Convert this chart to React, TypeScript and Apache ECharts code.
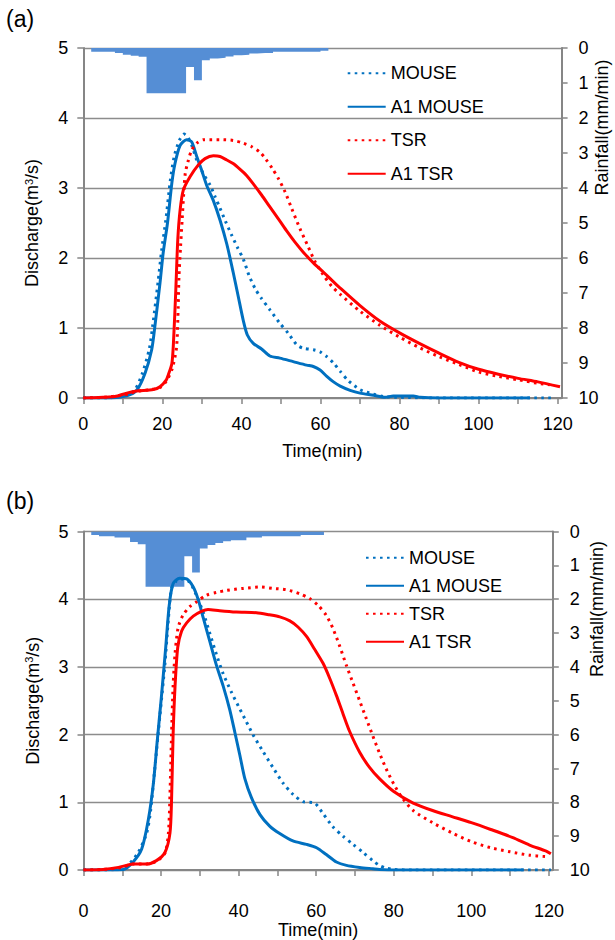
import React, { useEffect, useRef } from "react";
import * as echarts from "echarts";

// ---------- DATA ----------
const xTickValues = [0, 10, 20, 30, 40, 50, 60, 70, 80, 90, 100, 110, 120];
const xLabelValues = [0, 20, 40, 60, 80, 100, 120];

// rainfall bins (2-min blocks), edges in minutes
const rainEdges = [2, 4, 6, 8, 10, 12, 14, 16, 18, 20, 22, 24, 26, 28, 30, 32, 34, 36, 38, 40, 42, 44, 46, 48, 50, 52, 54, 56, 58, 60, 62];
const rainA = [0.11, 0.11, 0.11, 0.14, 0.19, 0.22, 0.25, 1.29, 1.29, 1.29, 1.29, 1.29, 0.54, 0.92, 0.35, 0.3, 0.28, 0.24, 0.21, 0.19, 0.16, 0.14, 0.14, 0.11, 0.11, 0.11, 0.11, 0.11, 0.11, 0.08];
const rainB = [0.1, 0.14, 0.14, 0.18, 0.18, 0.31, 0.38, 1.63, 1.63, 1.63, 1.63, 1.63, 0.73, 1.21, 0.5, 0.4, 0.34, 0.29, 0.26, 0.26, 0.18, 0.18, 0.14, 0.14, 0.14, 0.14, 0.14, 0.1, 0.1, 0.1];

// (a) discharge [time(min), m3/s]
const mouseA = [[0, 0], [6, 0], [9, 0.02], [11, 0.05], [13, 0.11], [15, 0.36], [16.7, 0.7], [17.6, 1.05], [18.9, 1.65], [19.8, 2.1], [20.9, 2.55], [22, 3.1], [23, 3.45], [24.3, 3.68], [25.5, 3.77], [26.5, 3.72], [27.5, 3.6], [28.7, 3.4], [30.4, 3.2], [32.1, 3.04], [33.3, 2.88], [34.6, 2.71], [36, 2.52], [37.5, 2.33], [39, 2.15], [40.5, 1.98], [42, 1.74], [43.5, 1.56], [45.1, 1.42], [47.2, 1.26], [49.7, 1.07], [51.9, 0.92], [54, 0.76], [55.7, 0.71], [58.2, 0.69], [59.9, 0.66], [61.6, 0.59], [63.3, 0.5], [65, 0.38], [67, 0.25], [70, 0.12], [73, 0.06], [76, 0.02], [80, 0.01], [90, 0], [118.5, 0]];
const a1MouseA = [[0, 0], [7, 0], [11, 0.03], [13.5, 0.11], [15.6, 0.35], [17.3, 0.69], [18.1, 1.02], [19.4, 1.64], [20.2, 2.07], [21.3, 2.5], [22.4, 3.07], [23.2, 3.35], [24.5, 3.61], [26.1, 3.69], [27.4, 3.66], [28.7, 3.45], [29.9, 3.26], [31.2, 3.04], [32.9, 2.82], [34.6, 2.54], [36.3, 2.2], [37.9, 1.8], [39.2, 1.45], [40.5, 1.1], [41.5, 0.9], [43, 0.78], [45.1, 0.7], [47.2, 0.6], [49.7, 0.57], [53.1, 0.52], [56.5, 0.47], [58.2, 0.45], [59.9, 0.4], [61.6, 0.31], [63.3, 0.23], [65, 0.17], [67.5, 0.11], [70, 0.07], [73.4, 0.04], [76.3, 0.01], [78.4, 0.03], [83.5, 0.03], [85.2, 0.01], [90, 0], [113, 0]];
const tsrA = [[0, 0], [5, 0.01], [10, 0.04], [12, 0.07], [14, 0.1], [17, 0.12], [19.4, 0.15], [21, 0.24], [22.5, 0.42], [23.6, 0.73], [24, 1.3], [24.2, 1.73], [24.6, 2.16], [25, 2.54], [25.4, 2.92], [25.8, 3.21], [26.6, 3.4], [27.4, 3.54], [28.7, 3.64], [30.4, 3.69], [34.6, 3.69], [37.9, 3.68], [40.5, 3.64], [42.6, 3.59], [44.7, 3.51], [46.2, 3.41], [47.8, 3.28], [49.4, 3.13], [51, 2.95], [52.7, 2.71], [54.8, 2.42], [56.9, 2.16], [58.6, 1.95], [60.7, 1.76], [62.8, 1.6], [65, 1.48], [70, 1.24], [75, 1.04], [80, 0.87], [85, 0.72], [90, 0.59], [95, 0.48], [100, 0.37], [105, 0.31], [110, 0.26], [115, 0.21], [118, 0.19]];
const a1TsrA = [[0, 0], [5, 0.01], [8, 0.02], [11, 0.07], [13.5, 0.1], [17.7, 0.12], [19.4, 0.16], [21, 0.26], [21.5, 0.33], [22.4, 0.49], [22.8, 0.78], [23.4, 1.54], [23.9, 2.26], [24.5, 2.69], [25.3, 2.97], [27, 3.16], [29.1, 3.33], [30.8, 3.42], [32.9, 3.46], [34.6, 3.45], [36.3, 3.4], [37.9, 3.35], [39.6, 3.27], [41.3, 3.18], [43, 3.06], [45.1, 2.9], [47.2, 2.73], [49.7, 2.53], [51.4, 2.39], [53.5, 2.23], [55.7, 2.08], [58.2, 1.93], [60.7, 1.8], [63.3, 1.66], [65, 1.57], [70, 1.32], [75, 1.1], [80, 0.93], [85, 0.78], [90, 0.64], [95, 0.51], [100, 0.41], [105, 0.34], [110, 0.28], [115, 0.23], [120.6, 0.16]];

// (b) discharge [time(min), m3/s]
const mouseB = [[0, 0], [6, 0], [9, 0.02], [11.1, 0.05], [14.1, 0.26], [16.3, 0.55], [17.3, 0.88], [18.4, 1.51], [19.7, 2.28], [21, 3.05], [21.9, 3.72], [22.7, 4.16], [24, 4.27], [25.7, 4.3], [27.4, 4.25], [29.1, 4.06], [30.9, 3.8], [32.6, 3.49], [34.3, 3.18], [36, 2.9], [38.2, 2.62], [40.3, 2.38], [42, 2.19], [43.7, 2.0], [46.3, 1.75], [48.9, 1.51], [51.5, 1.28], [54, 1.12], [56.6, 1.01], [59.6, 0.99], [61.8, 0.83], [64.3, 0.64], [66.9, 0.5], [69.5, 0.38], [72.1, 0.26], [74.6, 0.14], [76.3, 0.07], [78, 0.03], [80, 0.01], [85, 0], [120.5, 0]];
const a1MouseB = [[0, 0], [6, 0], [10.3, 0.01], [12.8, 0.12], [15, 0.31], [16.7, 0.74], [18, 1.27], [19, 1.9], [20.1, 2.57], [21.2, 3.29], [22.1, 3.91], [23.1, 4.23], [24.8, 4.31], [26.6, 4.3], [28.3, 4.18], [29.6, 3.99], [30.9, 3.72], [32.6, 3.37], [34.3, 3.02], [36, 2.72], [37.7, 2.37], [39, 2.04], [40.3, 1.7], [41.6, 1.35], [43.3, 1.07], [45.5, 0.82], [48, 0.65], [50.6, 0.54], [54, 0.43], [57.5, 0.38], [60.1, 0.33], [62.6, 0.23], [65.2, 0.12], [67.8, 0.07], [71.2, 0.04], [74.6, 0.02], [76.3, 0.01], [80, 0], [113.5, 0]];
const tsrB = [[0, 0], [5, 0.01], [9, 0.03], [11, 0.06], [13, 0.09], [16, 0.09], [18.8, 0.13], [21, 0.25], [21.9, 0.55], [22.3, 1.12], [22.7, 1.99], [23.1, 2.71], [23.6, 3.19], [24.4, 3.58], [25.7, 3.77], [27.4, 3.89], [29.1, 3.96], [31.7, 4.06], [34.3, 4.1], [36.9, 4.13], [41.2, 4.16], [45.5, 4.18], [48.9, 4.16], [52.3, 4.14], [55.8, 4.08], [58.3, 4.01], [60.5, 3.91], [62.6, 3.76], [64.3, 3.57], [66.1, 3.3], [67.8, 3.02], [69.5, 2.76], [71.2, 2.5], [72.9, 2.24], [74.6, 1.98], [76.3, 1.73], [78, 1.5], [80, 1.27], [82, 1.08], [85, 0.88], [90, 0.7], [95, 0.55], [100, 0.42], [105, 0.33], [110, 0.27], [115, 0.22], [119, 0.2]];
const a1TsrB = [[0, 0], [5, 0.01], [9, 0.04], [11.1, 0.07], [12.8, 0.09], [16.3, 0.09], [18.8, 0.14], [21, 0.26], [22.3, 0.55], [22.7, 1.03], [23.1, 1.99], [23.6, 2.71], [24.3, 3.29], [25.3, 3.53], [26.6, 3.65], [28.3, 3.75], [30.4, 3.82], [32.1, 3.85], [35.1, 3.83], [39.4, 3.81], [44.6, 3.8], [47.9, 3.77], [50.6, 3.74], [53.2, 3.68], [55.3, 3.59], [57.5, 3.45], [59.6, 3.26], [61.8, 3.05], [63.5, 2.83], [65.2, 2.58], [66.9, 2.31], [68.6, 2.05], [71.2, 1.74], [73.7, 1.52], [76.3, 1.35], [80, 1.16], [85, 0.99], [90, 0.88], [95, 0.79], [100, 0.7], [105, 0.6], [110.7, 0.48], [115, 0.37], [119.3, 0.28], [120.5, 0.24]];

const seriesNames = ["MOUSE", "A1 MOUSE", "TSR", "A1 TSR"];

// ---------- STYLE ----------
const FONT = "'Liberation Sans', Arial, Helvetica, sans-serif";
const BLUE = "#0070C0";
const RED = "#FF0000";
const RAIN = "#558ED5";
const AXIS = "#868686";
const GRIDC = "#8c8c8c";
const DOT = [2.6, 4.4];

function stepRain(vals: number[]) {
  const d = vals.map((v, i) => [rainEdges[i], v]);
  d.push([rainEdges[rainEdges.length - 1], vals[vals.length - 1]]);
  return d;
}

function xAxisCfg(gridIndex: number, labelMargin: number, nameGap: number) {
  return {
    type: "value",
    gridIndex,
    min: 0,
    max: 121,
    name: "Time(min)",
    nameLocation: "middle",
    nameGap,
    nameTextStyle: { fontFamily: FONT, fontSize: 18, color: "#000" },
    axisLine: { show: true, onZero: false, lineStyle: { color: AXIS, width: 2 } },
    axisTick: { show: true, length: 6, customValues: xTickValues, lineStyle: { color: AXIS, width: 1.5 } },
    axisLabel: { customValues: xLabelValues, margin: labelMargin, fontFamily: FONT, fontSize: 18, color: "#000" },
    splitLine: { show: false },
  };
}

function leftAxisCfg(gridIndex: number) {
  return {
    type: "value",
    gridIndex,
    position: "left",
    min: 0,
    max: 5,
    interval: 1,
    name: "Discharge(m{sup|3}/s)",
    nameLocation: "middle",
    nameRotate: 90,
    nameGap: 42,
    nameTextStyle: {
      fontFamily: FONT,
      fontSize: 18,
      color: "#000",
      rich: { sup: { fontFamily: FONT, fontSize: 11, color: "#000", verticalAlign: "top", lineHeight: 18 } },
    },
    axisLine: { show: true, onZero: false, lineStyle: { color: AXIS, width: 2 } },
    axisTick: { show: true, length: 6, lineStyle: { color: AXIS, width: 1.5 } },
    axisLabel: { margin: 15, fontFamily: FONT, fontSize: 18, color: "#000" },
    splitLine: { show: true, lineStyle: { color: GRIDC, width: 1.3 } },
  };
}

function rightAxisCfg(gridIndex: number) {
  return {
    type: "value",
    gridIndex,
    position: "right",
    inverse: true,
    min: 0,
    max: 10,
    interval: 1,
    axisLine: { show: true, onZero: false, lineStyle: { color: AXIS, width: 2 } },
    axisTick: { show: true, length: 6, lineStyle: { color: AXIS, width: 1.5 } },
    axisLabel: { margin: 17, fontFamily: FONT, fontSize: 18, color: "#000" },
    splitLine: { show: false },
  };
}

function flowSeries(name: string, data: number[][], xi: number, yi: number, color: string, dotted: boolean) {
  return {
    name,
    type: "line",
    xAxisIndex: xi,
    yAxisIndex: yi,
    data,
    symbol: "none",
    smooth: 0.25,
    z: 3,
    lineStyle: { color, width: 3, type: dotted ? DOT : "solid", cap: "butt", join: "round" },
    itemStyle: { color },
  };
}

function rainSeries(vals: number[], xi: number, yi: number) {
  return {
    name: "rain" + xi,
    type: "line",
    xAxisIndex: xi,
    yAxisIndex: yi,
    data: stepRain(vals),
    step: "end",
    symbol: "none",
    silent: true,
    z: 1,
    lineStyle: { width: 0, opacity: 0 },
    itemStyle: { color: RAIN },
    areaStyle: { color: RAIN, opacity: 1 },
  };
}

function legendCfg(left: number, top: number, itemGap: number) {
  return {
    orient: "vertical",
    left,
    top,
    itemGap,
    itemWidth: 38,
    itemHeight: 18,
    data: seriesNames,
    itemStyle: { opacity: 0 },
    textStyle: { fontFamily: FONT, fontSize: 18, color: "#000" },
    selectedMode: false,
  };
}

export default function App() {
  const ref = useRef<HTMLDivElement>(null);
  useEffect(() => {
    if (!ref.current) return;
    const chart = echarts.init(ref.current, null, { renderer: "svg" });
    chart.setOption({
      animation: false,
      backgroundColor: "#fff",
      grid: [
        { left: 83.3, top: 48, width: 478.3, height: 350 },
        { left: 83.5, top: 531.5, width: 469.3, height: 346.5 },
      ],
      xAxis: [xAxisCfg(0, 17, 44), xAxisCfg(1, 32, 49)],
      yAxis: [leftAxisCfg(0), rightAxisCfg(0), leftAxisCfg(1), rightAxisCfg(1)],
      legend: [legendCfg(341.7, 59.3, 15.5), legendCfg(360, 543.7, 10)],
      graphic: [
        { type: "text", left: 6, top: 7, style: { text: "(a)", font: `23px ${FONT}`, fill: "#000" } },
        { type: "text", left: 6, top: 489, style: { text: "(b)", font: `23px ${FONT}`, fill: "#000" } },
        {
          type: "text", x: 601.5, y: 127.5, rotation: Math.PI / 2,
          style: { text: "Rainfall(mm/min)", font: `18px ${FONT}`, fill: "#000", align: "center", verticalAlign: "middle" },
        },
        {
          type: "text", x: 597, y: 609, rotation: Math.PI / 2,
          style: { text: "Rainfall(mm/min)", font: `18px ${FONT}`, fill: "#000", align: "center", verticalAlign: "middle" },
        },
      ],
      series: [
        rainSeries(rainA, 0, 1),
        flowSeries("MOUSE", mouseA, 0, 0, BLUE, true),
        flowSeries("A1 MOUSE", a1MouseA, 0, 0, BLUE, false),
        flowSeries("TSR", tsrA, 0, 0, RED, true),
        flowSeries("A1 TSR", a1TsrA, 0, 0, RED, false),
        rainSeries(rainB, 1, 3),
        flowSeries("MOUSE", mouseB, 1, 2, BLUE, true),
        flowSeries("A1 MOUSE", a1MouseB, 1, 2, BLUE, false),
        flowSeries("TSR", tsrB, 1, 2, RED, true),
        flowSeries("A1 TSR", a1TsrB, 1, 2, RED, false),
      ],
    });
    return () => chart.dispose();
  }, []);
  return <div ref={ref} style={{ position: "absolute", left: 0, top: 0, width: 615, height: 940 }} />;
}
